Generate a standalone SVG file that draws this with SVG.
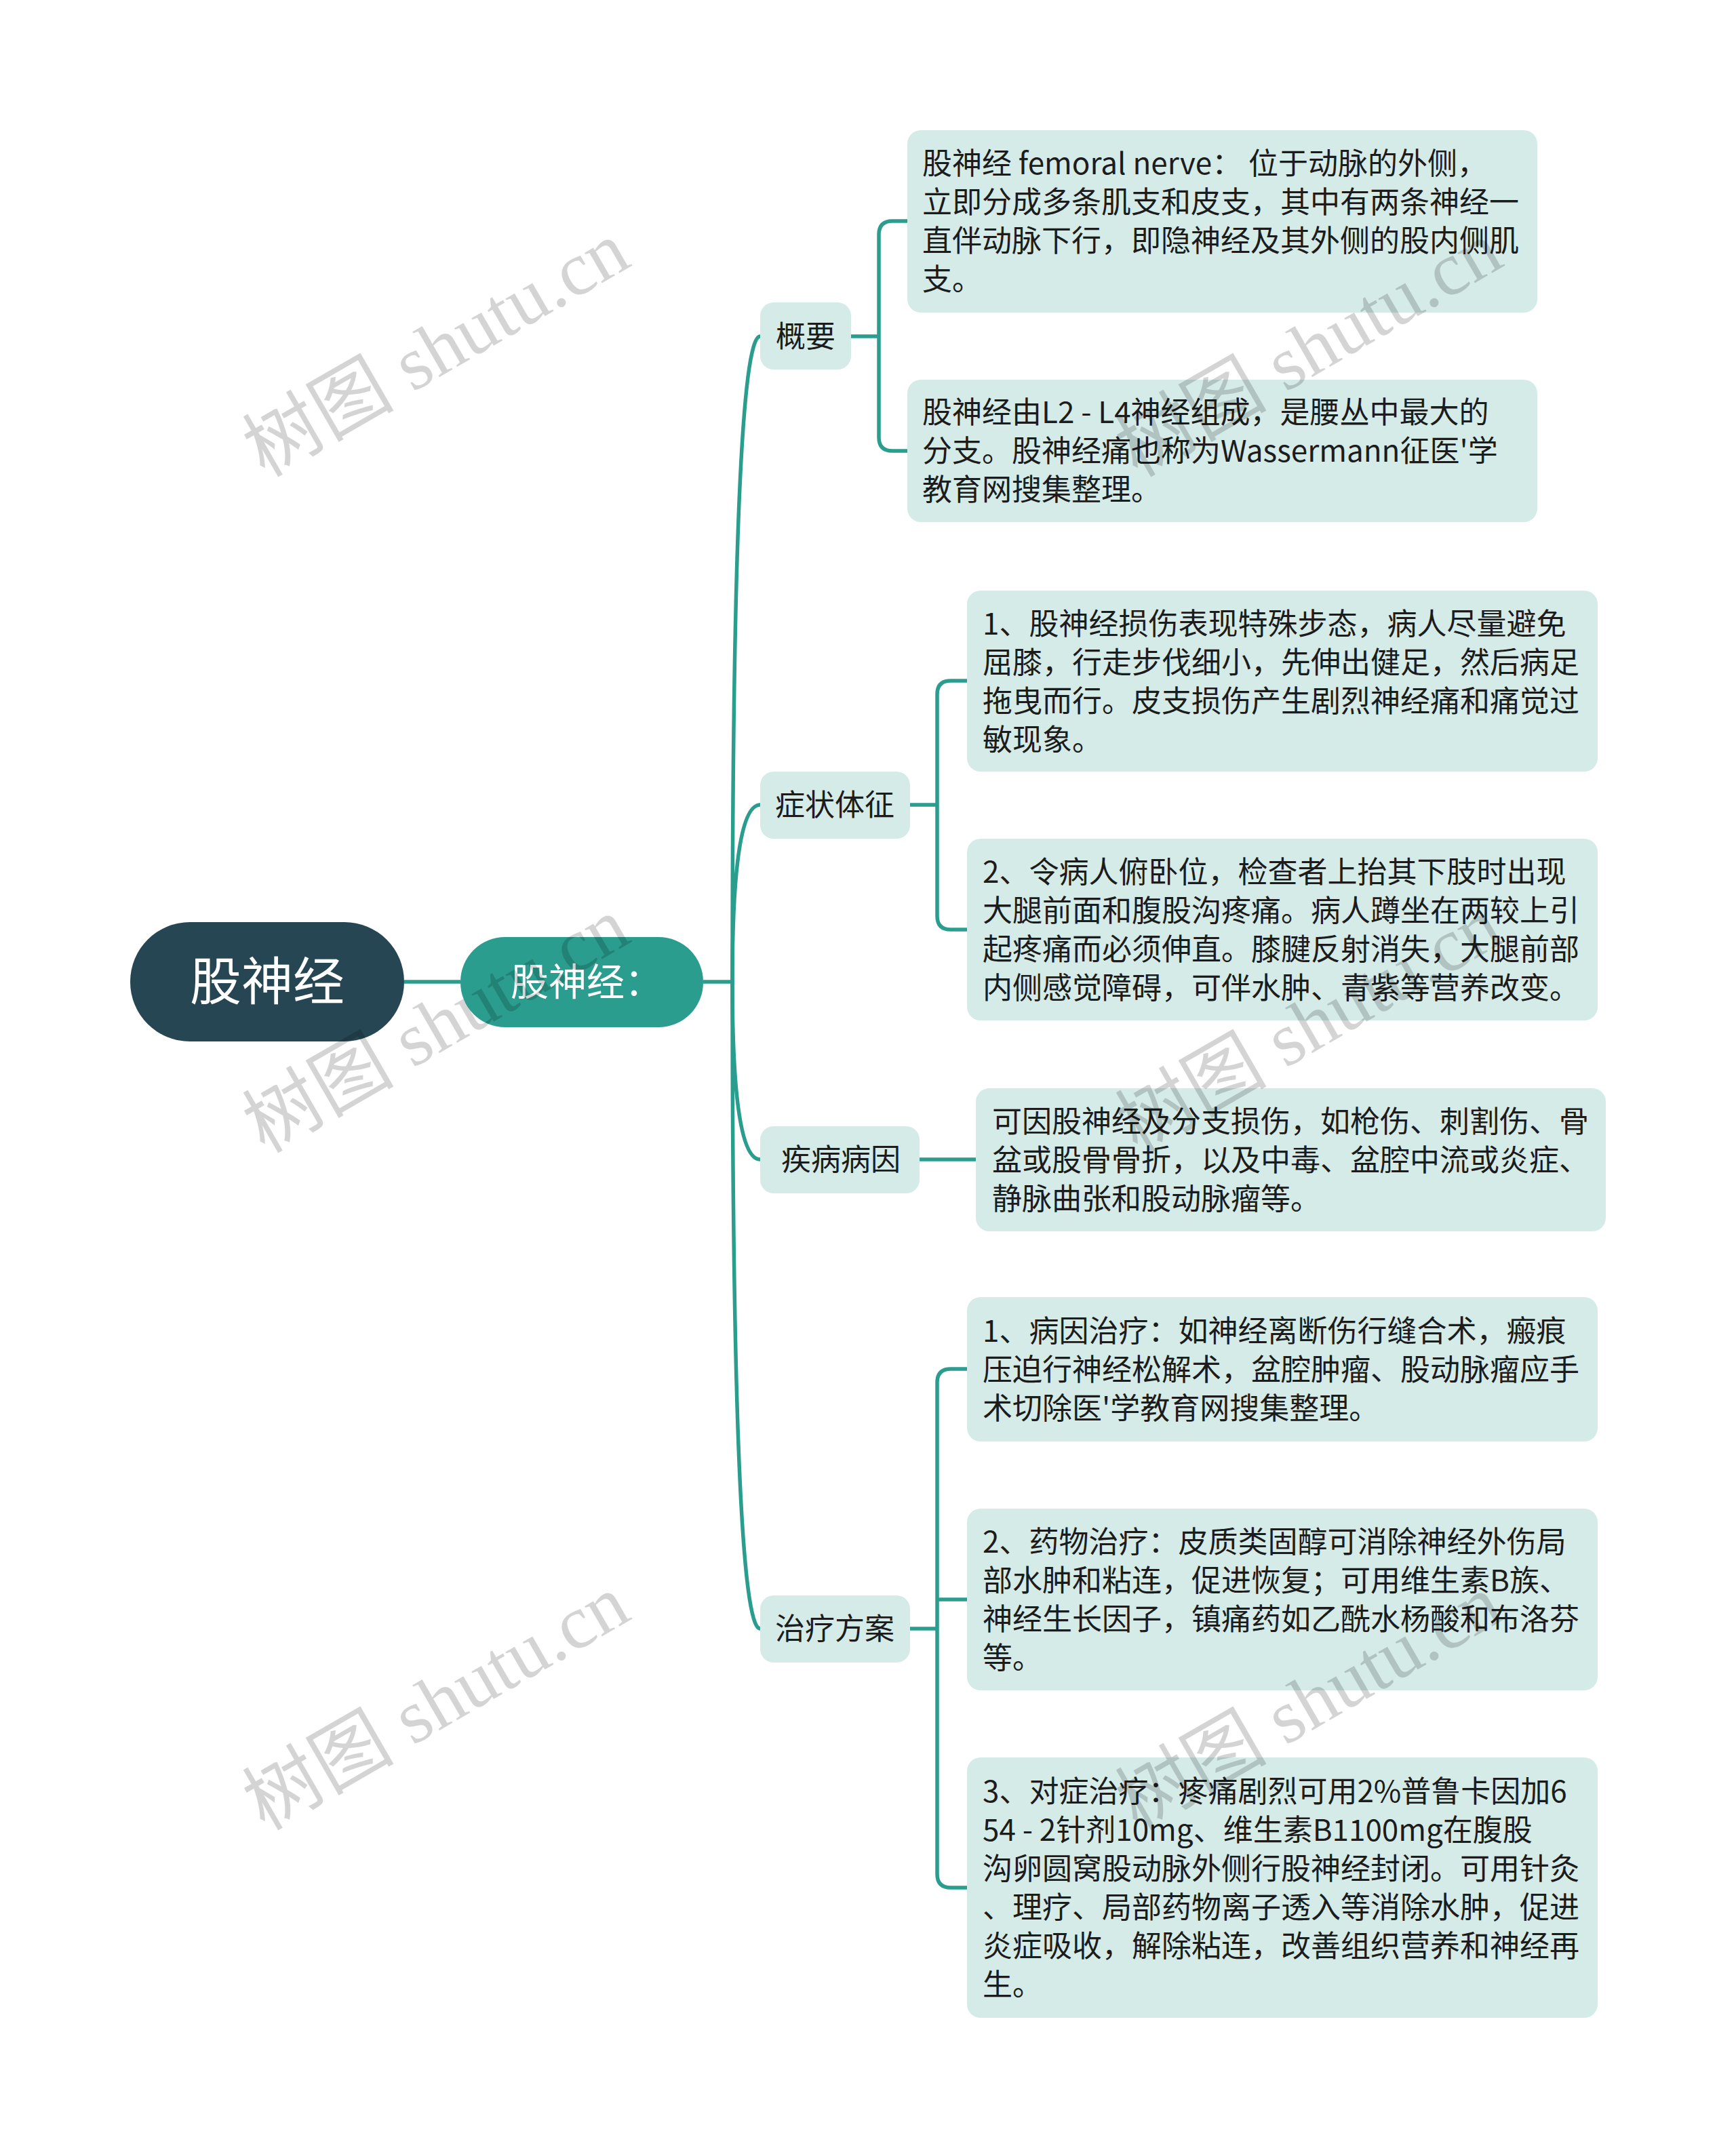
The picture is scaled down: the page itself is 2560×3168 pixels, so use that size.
<svg xmlns="http://www.w3.org/2000/svg" width="2560" height="3168" viewBox="0 0 2560 3168">
<style>
.bg{fill:#ffffff}
.conn{fill:none;stroke:#2A9D8F;stroke-width:5.5;stroke-linecap:butt}
.root rect{fill:#264653}
.main rect{fill:#2A9D8F}
.sub rect,.leaf rect{fill:#D5EBE8}
.wt{font-family:"Noto Sans CJK SC","Noto Sans",sans-serif;fill:#ffffff}
.t{font-family:"Noto Sans CJK SC","Noto Sans",sans-serif;font-size:44px;fill:#1c1c1c}
.wm{font-family:"Liberation Serif","Noto Sans CJK SC",serif;font-size:112px;fill:#000000;fill-opacity:0.17}
</style>
<rect class="bg" x="0" y="0" width="2560" height="3168"/>

<g id="connectors">
  <path class="conn" d="M596 1448 H679"/>
  <path class="conn" d="M1037 1448 H1080"/>
  <path class="conn" d="M1080 1448 Q1080 496 1121 496"/>
  <path class="conn" d="M1080 1448 Q1080 1187 1121 1187"/>
  <path class="conn" d="M1080 1448 Q1080 1710 1121 1710"/>
  <path class="conn" d="M1080 1448 Q1080 2402 1121 2402"/>
  <path class="conn" d="M1255 496 H1296"/>
  <path class="conn" d="M1338 326 H1316 Q1296 326 1296 346 V645 Q1296 665 1316 665 H1338"/>
  <path class="conn" d="M1342 1187 H1382"/>
  <path class="conn" d="M1426 1004 H1402 Q1382 1004 1382 1024 V1351 Q1382 1371 1402 1371 H1426"/>
  <path class="conn" d="M1356 1710 H1439"/>
  <path class="conn" d="M1342 2402 H1382"/>
  <path class="conn" d="M1426 2019 H1402 Q1382 2019 1382 2039 V2764 Q1382 2784 1402 2784 H1426"/>
  <path class="conn" d="M1382 2359 H1426"/>
</g>

<g id="root" class="root">
  <rect x="192" y="1360" width="404" height="176" rx="88"/>
  <text class="wt" x="394" y="1475" font-size="76" text-anchor="middle">股神经</text>
</g>

<g id="main" class="main">
  <rect x="679" y="1382" width="358" height="133" rx="66"/>
  <text class="wt" x="865" y="1468" font-size="56" text-anchor="middle">股神经：</text>
</g>

<g id="n-gaiyao" class="sub">
  <rect x="1121" y="446" width="134" height="99" rx="20"/>
  <text class="t" x="1188" y="512" text-anchor="middle">概要</text>
</g>
<g id="n-zhengzhuang" class="sub">
  <rect x="1121" y="1138" width="221" height="99" rx="20"/>
  <text class="t" x="1231" y="1203" text-anchor="middle">症状体征</text>
</g>
<g id="n-bingyin" class="sub">
  <rect x="1121" y="1661" width="235" height="99" rx="20"/>
  <text class="t" x="1240" y="1726" text-anchor="middle">疾病病因</text>
</g>
<g id="n-zhiliao" class="sub">
  <rect x="1121" y="2353" width="221" height="99" rx="20"/>
  <text class="t" x="1231" y="2418" text-anchor="middle">治疗方案</text>
</g>

<g id="leaf-a1" class="leaf">
  <rect x="1338" y="192" width="929" height="269" rx="20"/>
  <text class="t" x="1360"><tspan x="1360" y="257">股神经 femoral nerve： 位于动脉的外侧，</tspan><tspan x="1360" y="314">立即分成多条肌支和皮支，其中有两条神经一</tspan><tspan x="1360" y="371">直伴动脉下行，即隐神经及其外侧的股内侧肌</tspan><tspan x="1360" y="428">支。</tspan></text>
</g>
<g id="leaf-a2" class="leaf">
  <rect x="1338" y="560" width="929" height="210" rx="20"/>
  <text class="t" x="1360"><tspan x="1360" y="624">股神经由L2 - L4神经组成，是腰丛中最大的</tspan><tspan x="1360" y="681">分支。股神经痛也称为Wassermann征医'学</tspan><tspan x="1360" y="738">教育网搜集整理。</tspan></text>
</g>
<g id="leaf-b1" class="leaf">
  <rect x="1426" y="871" width="930" height="267" rx="20"/>
  <text class="t" x="1449"><tspan x="1449" y="936">1、股神经损伤表现特殊步态，病人尽量避免</tspan><tspan x="1449" y="993">屈膝，行走步伐细小，先伸出健足，然后病足</tspan><tspan x="1449" y="1050">拖曳而行。皮支损伤产生剧烈神经痛和痛觉过</tspan><tspan x="1449" y="1107">敏现象。</tspan></text>
</g>
<g id="leaf-b2" class="leaf">
  <rect x="1426" y="1237" width="930" height="268" rx="20"/>
  <text class="t" x="1449"><tspan x="1449" y="1302">2、令病人俯卧位，检查者上抬其下肢时出现</tspan><tspan x="1449" y="1359">大腿前面和腹股沟疼痛。病人蹲坐在两较上引</tspan><tspan x="1449" y="1416">起疼痛而必须伸直。膝腱反射消失，大腿前部</tspan><tspan x="1449" y="1473">内侧感觉障碍，可伴水肿、青紫等营养改变。</tspan></text>
</g>
<g id="leaf-c1" class="leaf">
  <rect x="1439" y="1605" width="929" height="211" rx="20"/>
  <text class="t" x="1463"><tspan x="1463" y="1670">可因股神经及分支损伤，如枪伤、刺割伤、骨</tspan><tspan x="1463" y="1727">盆或股骨骨折，以及中毒、盆腔中流或炎症、</tspan><tspan x="1463" y="1784">静脉曲张和股动脉瘤等。</tspan></text>
</g>
<g id="leaf-d1" class="leaf">
  <rect x="1426" y="1913" width="930" height="213" rx="20"/>
  <text class="t" x="1449"><tspan x="1449" y="1979">1、病因治疗：如神经离断伤行缝合术，瘢痕</tspan><tspan x="1449" y="2036">压迫行神经松解术，盆腔肿瘤、股动脉瘤应手</tspan><tspan x="1449" y="2093">术切除医'学教育网搜集整理。</tspan></text>
</g>
<g id="leaf-d2" class="leaf">
  <rect x="1426" y="2225" width="930" height="268" rx="20"/>
  <text class="t" x="1449"><tspan x="1449" y="2290">2、药物治疗：皮质类固醇可消除神经外伤局</tspan><tspan x="1449" y="2347">部水肿和粘连，促进恢复；可用维生素B族、</tspan><tspan x="1449" y="2404">神经生长因子，镇痛药如乙酰水杨酸和布洛芬</tspan><tspan x="1449" y="2461">等。</tspan></text>
</g>
<g id="leaf-d3" class="leaf">
  <rect x="1426" y="2592" width="930" height="384" rx="20"/>
  <text class="t" x="1449"><tspan x="1449" y="2658">3、对症治疗：疼痛剧烈可用2%普鲁卡因加6</tspan><tspan x="1449" y="2715">54 - 2针剂10mg、维生素B1100mg在腹股</tspan><tspan x="1449" y="2772">沟卵圆窝股动脉外侧行股神经封闭。可用针灸</tspan><tspan x="1449" y="2829">、理疗、局部药物离子透入等消除水肿，促进</tspan><tspan x="1449" y="2886">炎症吸收，解除粘连，改善组织营养和神经再</tspan><tspan x="1449" y="2943">生。</tspan></text>
</g>

<g id="watermarks">
  <text class="wm" text-anchor="middle" transform="translate(643 515) rotate(-30)" x="0" y="38">树图 shutu.cn</text>
  <text class="wm" text-anchor="middle" transform="translate(643 1512) rotate(-30)" x="0" y="38">树图 shutu.cn</text>
  <text class="wm" text-anchor="middle" transform="translate(643 2511) rotate(-30)" x="0" y="38">树图 shutu.cn</text>
  <text class="wm" text-anchor="middle" transform="translate(1930 515) rotate(-30)" x="0" y="38">树图 shutu.cn</text>
  <text class="wm" text-anchor="middle" transform="translate(1930 1512) rotate(-30)" x="0" y="38">树图 shutu.cn</text>
  <text class="wm" text-anchor="middle" transform="translate(1930 2511) rotate(-30)" x="0" y="38">树图 shutu.cn</text>
</g>
</svg>
